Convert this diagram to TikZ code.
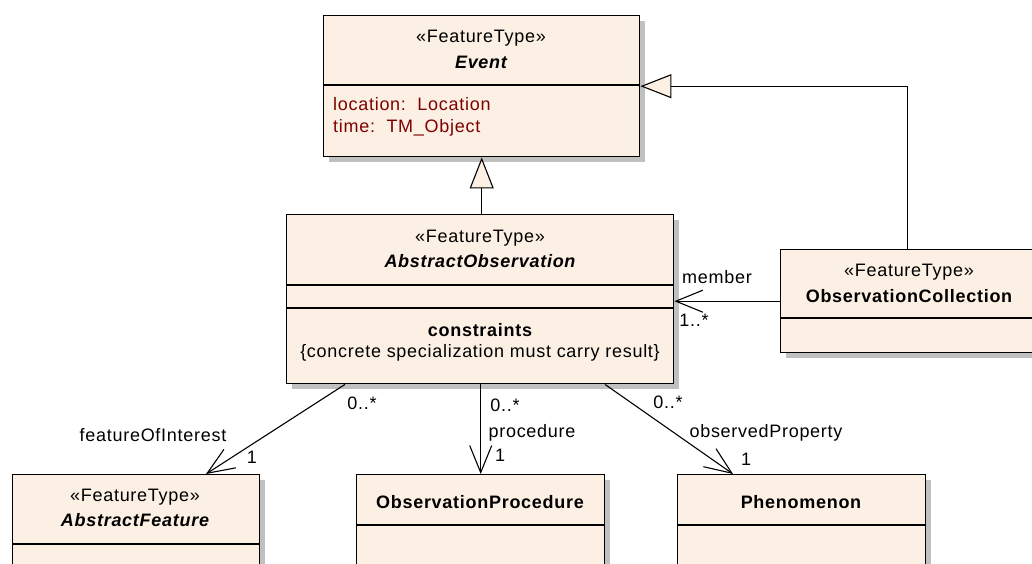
\documentclass[tikz,border=0pt]{standalone}
\usepackage{fontspec}
\setmainfont{Liberation Sans}[LetterSpace=4]
\usetikzlibrary{arrows.meta, shadows, positioning}
\definecolor{classfill}{RGB}{251, 240, 227}
\definecolor{attrred}{RGB}{128, 0, 0}
\definecolor{shadowgray}{RGB}{192, 192, 192}

\begin{document}
\begin{tikzpicture}[x=1pt, y=-1pt,
  cls/.style={draw, line width=1.4pt, fill=classfill, inner sep=0pt, anchor=north west,
    drop shadow={shadow xshift=5pt, shadow yshift=-5pt, fill=shadowgray, opacity=1}},
  sep/.style={line width=1.4pt},
  lbl/.style={font=\fontsize{18}{21}\selectfont, inner sep=0pt},
  cname/.style={lbl, font=\fontsize{18}{21}\selectfont\bfseries},
  aname/.style={lbl, font=\fontsize{18}{21}\selectfont\bfseries\itshape},
  attr/.style={lbl, text=attrred, anchor=west},
  gen/.style={line width=1.1pt, -{Triangle[length=31pt, width=24pt, fill=classfill, line width=1.1pt]}},
  assoc/.style={line width=1.1pt, -{Straight Barb[length=27pt, width=22pt, line width=1.1pt]}}
]
  \useasboundingbox (0,0) rectangle (1032,563);
  \clip (0,0) rectangle (1032,563);

  % Event
  \node[cls, minimum width=316pt, minimum height=141pt] (event) at (323,15) {};
  \draw[sep] (event.west |- 0,85) -- (event.east |- 0,85);
  \node[lbl] (event-st) at (481,38) {«FeatureType»};
  \node[aname] (event-nm) at (481,62) {Event};
  \node[attr] (event-a1) at (333,104) {location:\ \ Location};
  \node[attr] (event-a2) at (333,128) {time:\ \ TM\_Object};

  % AbstractObservation
  \node[cls, minimum width=387pt, minimum height=169pt] (aobs) at (286,214) {};
  \draw[sep] (aobs.west |- 0,285) -- (aobs.east |- 0,285);
  \draw[sep] (aobs.west |- 0,308) -- (aobs.east |- 0,308);
  \node[lbl] (aobs-st) at (480,238) {«FeatureType»};
  \node[aname] (aobs-nm) at (480,261) {AbstractObservation};
  \node[cname] (aobs-cs) at (480,330) {constraints};
  \node[lbl] (aobs-c1) at (480,353) {\{concrete specialization must carry result\}};

  % ObservationCollection
  \node[cls, minimum width=254pt, minimum height=103pt] (obscoll) at (780,249) {};
  \draw[sep] (obscoll.west |- 0,318) -- (obscoll.east |- 0,318);
  \node[lbl] (obscoll-st) at (909,272) {«FeatureType»};
  \node[cname] (obscoll-nm) at (909,296) {ObservationCollection};

  % Targets of the associations
  \node[cls, minimum width=247pt, minimum height=130pt] (afeat) at (12,474) {};
  \draw[sep] (afeat.west |- 0,544) -- (afeat.east |- 0,544);
  \node[lbl] (afeat-st) at (135,497) {«FeatureType»};
  \node[aname] (afeat-nm) at (135,520) {AbstractFeature};

  \node[cls, minimum width=248pt, minimum height=130pt] (oproc) at (356,474) {};
  \draw[sep] (oproc.west |- 0,525) -- (oproc.east |- 0,525);
  \node[cname] (oproc-nm) at (480,502) {ObservationProcedure};

  \node[cls, minimum width=248pt, minimum height=130pt] (phen) at (677,474) {};
  \draw[sep] (phen.west |- 0,525) -- (phen.east |- 0,525);
  \node[cname] (phen-nm) at (801,502) {Phenomenon};

  % Generalizations
  \draw[gen] (aobs.north -| event.south) -- (event.south);
  \draw[gen] (obscoll.north) |- (event.east);

  % Associations
  \draw[assoc] (obscoll.west) -- (obscoll.west -| aobs.east);
  \node[lbl] (member-role) at (717,277) {member};
  \node[lbl] (member-mult) at (694,320) {1..*};

  \draw[assoc] (aobs.south -| 345,0) -- (afeat.north -| 206,0);
  \node[lbl] (foi-from) at (362,403) {0..*};
  \node[lbl] (foi-role) at (153,435) {featureOfInterest};
  \node[lbl] (foi-mult) at (252,457) {1};

  \draw[assoc] (aobs.south -| oproc.north) -- (oproc.north);
  \node[lbl] (proc-from) at (505,405) {0..*};
  \node[lbl] (proc-role) at (532,433) {procedure};
  \node[lbl] (proc-mult) at (500,455) {1};

  \draw[assoc] (aobs.south -| 605,0) -- (phen.north -| 733,0);
  \node[lbl] (prop-from) at (668,402) {0..*};
  \node[lbl] (prop-role) at (766,433) {observedProperty};
  \node[lbl] (prop-mult) at (746,459) {1};
\end{tikzpicture}
\end{document}
